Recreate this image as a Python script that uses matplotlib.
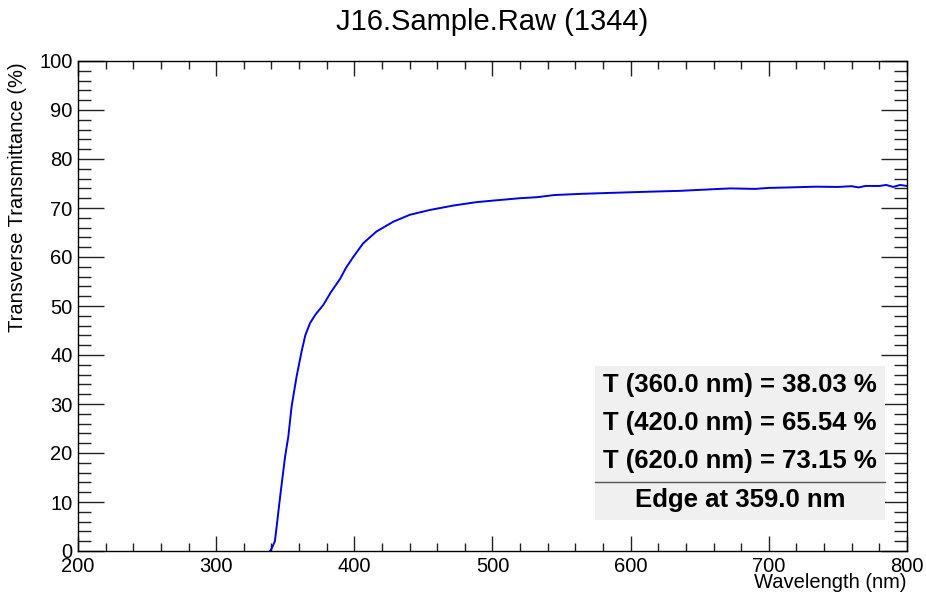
import matplotlib.pyplot as plt
from matplotlib.ticker import MultipleLocator

plt.rcParams['font.family'] = ['Liberation Sans', 'DejaVu Sans']

# spectrum
wavelength = [339, 340, 342.5, 344, 346, 348, 350, 352.2, 354.6, 358.2, 361.8, 364.5, 367.9,
              372, 377.5, 383, 389.6, 394, 399.2, 406.4, 416, 428.2, 440, 454.7, 471.6, 488.5,
              500, 520, 532, 545, 565, 587.4, 610, 635.6, 650, 672, 690, 700, 715, 734, 750,
              760, 765, 770, 780, 785, 790, 795, 800]
transmittance = [0.0, 0.4, 2.0, 5.5, 10.4, 15.0, 19.5, 23.3, 29.5, 35.6, 40.7, 44.0, 46.5,
                 48.3, 50.2, 52.8, 55.5, 57.8, 60.0, 62.8, 65.2, 67.2, 68.6, 69.6, 70.5, 71.2,
                 71.5, 72.0, 72.2, 72.65, 72.9, 73.1, 73.3, 73.5, 73.7, 74.0, 73.9, 74.1, 74.2,
                 74.35, 74.3, 74.45, 74.2, 74.5, 74.5, 74.7, 74.3, 74.7, 74.5]

results = ["T (360.0 nm) = 38.03 %", "T (420.0 nm) = 65.54 %", "T (620.0 nm) = 73.15 %"]
edge_text = "Edge at 359.0 nm"

fig = plt.figure(figsize=(9.26, 5.95), dpi=100)
ax = fig.add_axes([78 / 926, 1 - 551 / 595, 829 / 926, 490 / 595])

ax.plot(wavelength, transmittance, color='#0000dd', lw=1.4)

ax.set_xlim(200, 800)
ax.set_ylim(0, 100)
ax.xaxis.set_major_locator(MultipleLocator(100))
ax.xaxis.set_minor_locator(MultipleLocator(20))
ax.yaxis.set_major_locator(MultipleLocator(10))
ax.yaxis.set_minor_locator(MultipleLocator(2))
ax.tick_params(axis='both', which='both', direction='in', top=True, right=True,
               labelsize=14.5, width=1, color='#222222')
ax.tick_params(axis='x', which='major', length=10.8, pad=4)
ax.tick_params(axis='x', which='minor', length=5.8)
ax.tick_params(axis='y', which='major', length=18.7, pad=4)
ax.tick_params(axis='y', which='minor', length=9.4)
for s in ax.spines.values():
    s.set_linewidth(1)

fig.text(492 / 926, 1 - 22 / 595, "J16.Sample.Raw (1344)", ha='center', va='center', fontsize=21)
fig.text(18 / 926, 1 - 62 / 595, "Transverse Transmittance (%)", rotation=90,
         ha='center', va='top', fontsize=14.5)
fig.text(907 / 926, 1 - 582 / 595, "Wavelength (nm)", ha='right', va='center', fontsize=14.5)

# results box
x0, x1 = (595 - 78) / 829, (885 - 78) / 829
y0, y1 = (551 - 520) / 490, (551 - 366) / 490
ax.add_patch(plt.Rectangle((x0, y0), x1 - x0, y1 - y0, transform=ax.transAxes,
                           facecolor='#f0f0f0', edgecolor='none', zorder=3))
ysep = (551 - 482) / 490
ax.plot([x0, x1], [ysep, ysep], transform=ax.transAxes, color='#555555', lw=1, zorder=4)
xc = (740 - 78) / 829
for i, txt in enumerate(results):
    yc = (551 - (385 + 38 * i)) / 490
    ax.text(xc, yc, txt, transform=ax.transAxes, ha='center', va='center',
            fontsize=18.5, fontweight='bold', zorder=5)
ax.text(xc, (551 - 500) / 490, edge_text, transform=ax.transAxes, ha='center', va='center',
        fontsize=18.5, fontweight='bold', zorder=5)

fig.savefig("out.png", dpi=100)
